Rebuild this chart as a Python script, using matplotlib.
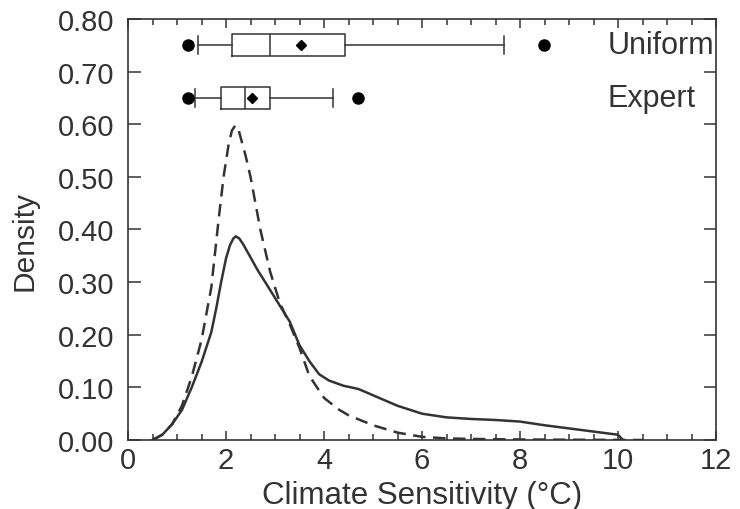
import numpy as np
import matplotlib
matplotlib.use("Agg")
import matplotlib.pyplot as plt
from matplotlib.ticker import MultipleLocator, FormatStrFormatter

plt.rcParams['font.family'] = ['Liberation Sans', 'DejaVu Sans']

# densidad con prior uniforme (linea continua)
x_unif = [0.5, 0.7, 0.9, 1.1, 1.3, 1.5, 1.7, 1.8, 1.9, 2.0, 2.08, 2.15, 2.2, 2.27,
          2.35, 2.5, 2.65, 2.8, 3.0, 3.3, 3.5, 3.7, 3.9, 4.1, 4.4, 4.7, 5.0, 5.5,
          6.0, 6.5, 7.0, 7.5, 8.0, 8.5, 9.0, 9.5, 10.0, 10.1]
y_unif = [0.0, 0.01, 0.03, 0.057, 0.10, 0.148, 0.205, 0.25, 0.30, 0.345, 0.37,
          0.383, 0.387, 0.383, 0.372, 0.347, 0.322, 0.30, 0.27, 0.225, 0.18, 0.15,
          0.125, 0.113, 0.103, 0.097, 0.085, 0.065, 0.05, 0.043, 0.04, 0.038,
          0.035, 0.028, 0.022, 0.016, 0.01, 0.0]

# densidad con prior experto (linea discontinua)
x_exp = [0.5, 0.7, 0.9, 1.1, 1.3, 1.5, 1.7, 1.85, 1.95, 2.05, 2.12, 2.19, 2.26, 2.4,
         2.5, 2.7, 2.9, 3.1, 3.3, 3.5, 3.7, 4.0, 4.3, 4.5, 5.0, 5.5, 6.0, 6.5,
         7.0, 8.0, 9.0, 10.0, 10.5]
y_exp = [0.0, 0.01, 0.03, 0.065, 0.12, 0.19, 0.29, 0.42, 0.50, 0.56, 0.588, 0.598,
         0.588, 0.54, 0.50, 0.40, 0.32, 0.26, 0.22, 0.175, 0.122, 0.08, 0.058,
         0.047, 0.028, 0.014, 0.006, 0.003, 0.002, 0.001, 0.0005, 0.0002, 0.0]

# resumen de las cajas
box_names = ["Uniform", "Expert"]
box_pos = [0.75, 0.65]
q1 = [2.12, 1.90]
med = [2.89, 2.39]
q3 = [4.42, 2.89]
wlo = [1.42, 1.36]
whi = [7.67, 4.19]
means = [3.52, 2.53]
fliers = [[1.22, 8.49], [1.22, 4.70]]

c = "#333333"

fig = plt.figure(figsize=(7.4, 5.1), dpi=100)
ax = fig.add_axes([0.173, 0.1353, 0.7946, 0.8255])

ax.plot(x_unif, y_unif, color=c, lw=1.8)
ax.plot(x_exp, y_exp, color=c, lw=1.8, ls=(0, (5, 3)))

stats = []
for i in range(len(box_names)):
    stats.append(dict(label=box_names[i], q1=q1[i], med=med[i], q3=q3[i],
                      whislo=wlo[i], whishi=whi[i], mean=means[i], fliers=fliers[i]))

ax.bxp(stats, positions=box_pos, widths=0.042, capwidths=0.034,
       orientation='horizontal', showmeans=True, manage_ticks=False,
       boxprops=dict(color=c, lw=1.1), medianprops=dict(color=c, lw=1.1),
       whiskerprops=dict(color=c, lw=1.1), capprops=dict(color=c, lw=1.1),
       meanprops=dict(marker='D', markerfacecolor='k', markeredgecolor='k', markersize=5),
       flierprops=dict(marker='o', markerfacecolor='k', markeredgecolor='k', markersize=8))

for i in range(len(box_names)):
    ax.text(9.78, box_pos[i], box_names[i], ha='left', va='center', fontsize=22, color=c)

ax.set_xlim(0, 12)
ax.set_ylim(0, 0.8)
ax.xaxis.set_major_locator(MultipleLocator(2))
ax.xaxis.set_minor_locator(MultipleLocator(0.5))
ax.yaxis.set_major_locator(MultipleLocator(0.1))
ax.yaxis.set_major_formatter(FormatStrFormatter('%.2f'))
ax.tick_params(axis='both', which='both', direction='in', top=True, right=True,
               labelsize=21, labelcolor=c, color=c, width=1.1)
ax.tick_params(axis='y', which='major', length=9, pad=10)
ax.tick_params(axis='x', which='major', length=6.5, pad=4)
ax.tick_params(axis='x', which='minor', length=4.3)
for s in ax.spines.values():
    s.set_color(c)
    s.set_linewidth(1.2)

ax.set_xlabel("Climate Sensitivity (°C)", fontsize=22.5, color=c, labelpad=5)
ax.set_ylabel("Density", fontsize=21.5, color=c, labelpad=14)
ax.yaxis.label.set_y(0.475)

fig.savefig("out.png", dpi=100)
